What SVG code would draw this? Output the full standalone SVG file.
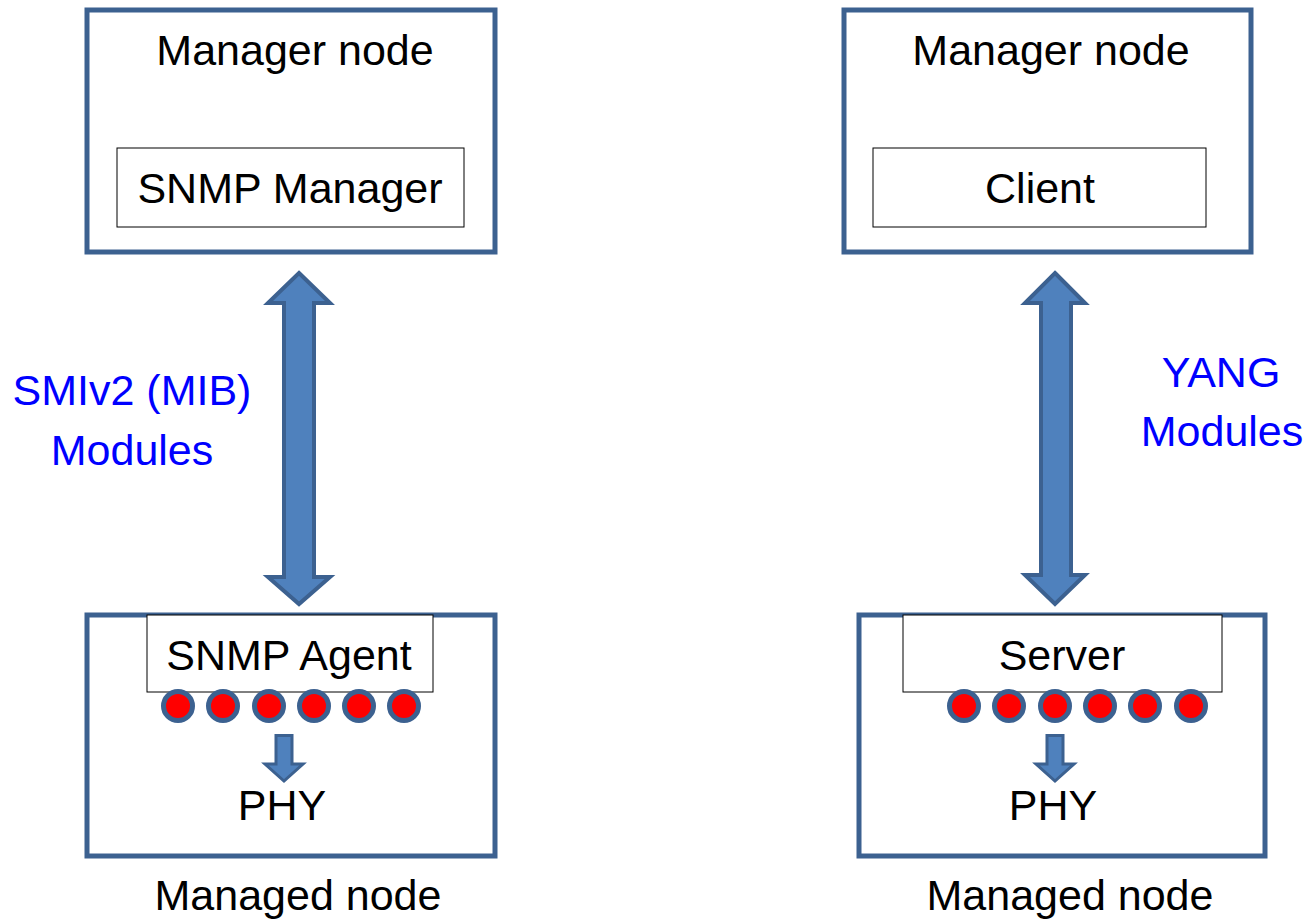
<svg xmlns="http://www.w3.org/2000/svg" width="1309" height="919" viewBox="0 0 1309 919">
<style>
.outer{fill:#fff;stroke:#3C6190;stroke-width:5}
.inner{fill:#fff;stroke:#000;stroke-width:1}
.t{font-family:"Liberation Sans",Arial,sans-serif;font-size:43px;fill:#000;text-anchor:middle}
.b{fill:#0000FF}
.arrow{fill:#4F81BD;stroke:#3C6190;stroke-width:4;stroke-linejoin:miter}
.small{fill:#4F81BD;stroke:#3C6190;stroke-width:3}
.dot{fill:#FF0000;stroke:#3C6190;stroke-width:5}
</style>
<rect width="1309" height="919" fill="#fff"/>
<g id="manager-left">
<rect class="outer" x="87" y="10" width="408" height="242"/>
<text class="t" x="295" y="65">Manager node</text>
<rect class="inner" x="117" y="148" width="347" height="79"/>
<text class="t" x="290" y="203">SNMP Manager</text>
</g>
<g id="manager-right">
<rect class="outer" x="844" y="10" width="407" height="242"/>
<text class="t" x="1051" y="65">Manager node</text>
<rect class="inner" x="873" y="148" width="333" height="79"/>
<text class="t" x="1040" y="203">Client</text>
</g>
<g id="managed-left">
<rect class="outer" x="87" y="615" width="408" height="241"/>
<rect class="inner" x="147" y="615" width="286" height="77"/>
<text class="t" x="289" y="670">SNMP Agent</text>
<circle class="dot" cx="178" cy="706" r="14.5"/>
<circle class="dot" cx="223" cy="706" r="14.5"/>
<circle class="dot" cx="269" cy="706" r="14.5"/>
<circle class="dot" cx="314" cy="706" r="14.5"/>
<circle class="dot" cx="359" cy="706" r="14.5"/>
<circle class="dot" cx="404" cy="706" r="14.5"/>
<path class="small" d="M276 735.5 H292 V764 H303 L284 781 L265 764 H276 Z"/>
<text class="t" x="282" y="820">PHY</text>
<text class="t" x="298" y="910">Managed node</text>
</g>
<g id="managed-right">
<rect class="outer" x="859" y="615" width="406" height="241"/>
<rect class="inner" x="903" y="615" width="319" height="77"/>
<text class="t" x="1062" y="670">Server</text>
<circle class="dot" cx="964" cy="706" r="14.5"/>
<circle class="dot" cx="1009" cy="706" r="14.5"/>
<circle class="dot" cx="1055" cy="706" r="14.5"/>
<circle class="dot" cx="1100" cy="706" r="14.5"/>
<circle class="dot" cx="1145" cy="706" r="14.5"/>
<circle class="dot" cx="1191" cy="706" r="14.5"/>
<path class="small" d="M1047 735.5 H1063 V764 H1074 L1055 781 L1036 764 H1047 Z"/>
<text class="t" x="1053" y="820">PHY</text>
<text class="t" x="1070" y="910">Managed node</text>
</g>
<g id="connectors">
<path class="arrow" d="M299 273 L330 303 H314 V577 H330 L299 604 L268 577 H284 V303 H268 Z"/>
<path class="arrow" d="M1055 273 L1085 303 H1071 V575 H1085 L1055 604 L1025 575 H1041 V303 H1025 Z"/>
</g>
<g id="labels">
<text class="t b" x="132" y="405">SMIv2 (MIB)</text>
<text class="t b" x="132" y="465">Modules</text>
<text class="t b" x="1221" y="387">YANG</text>
<text class="t b" x="1222" y="446">Modules</text>
</g>
</svg>
